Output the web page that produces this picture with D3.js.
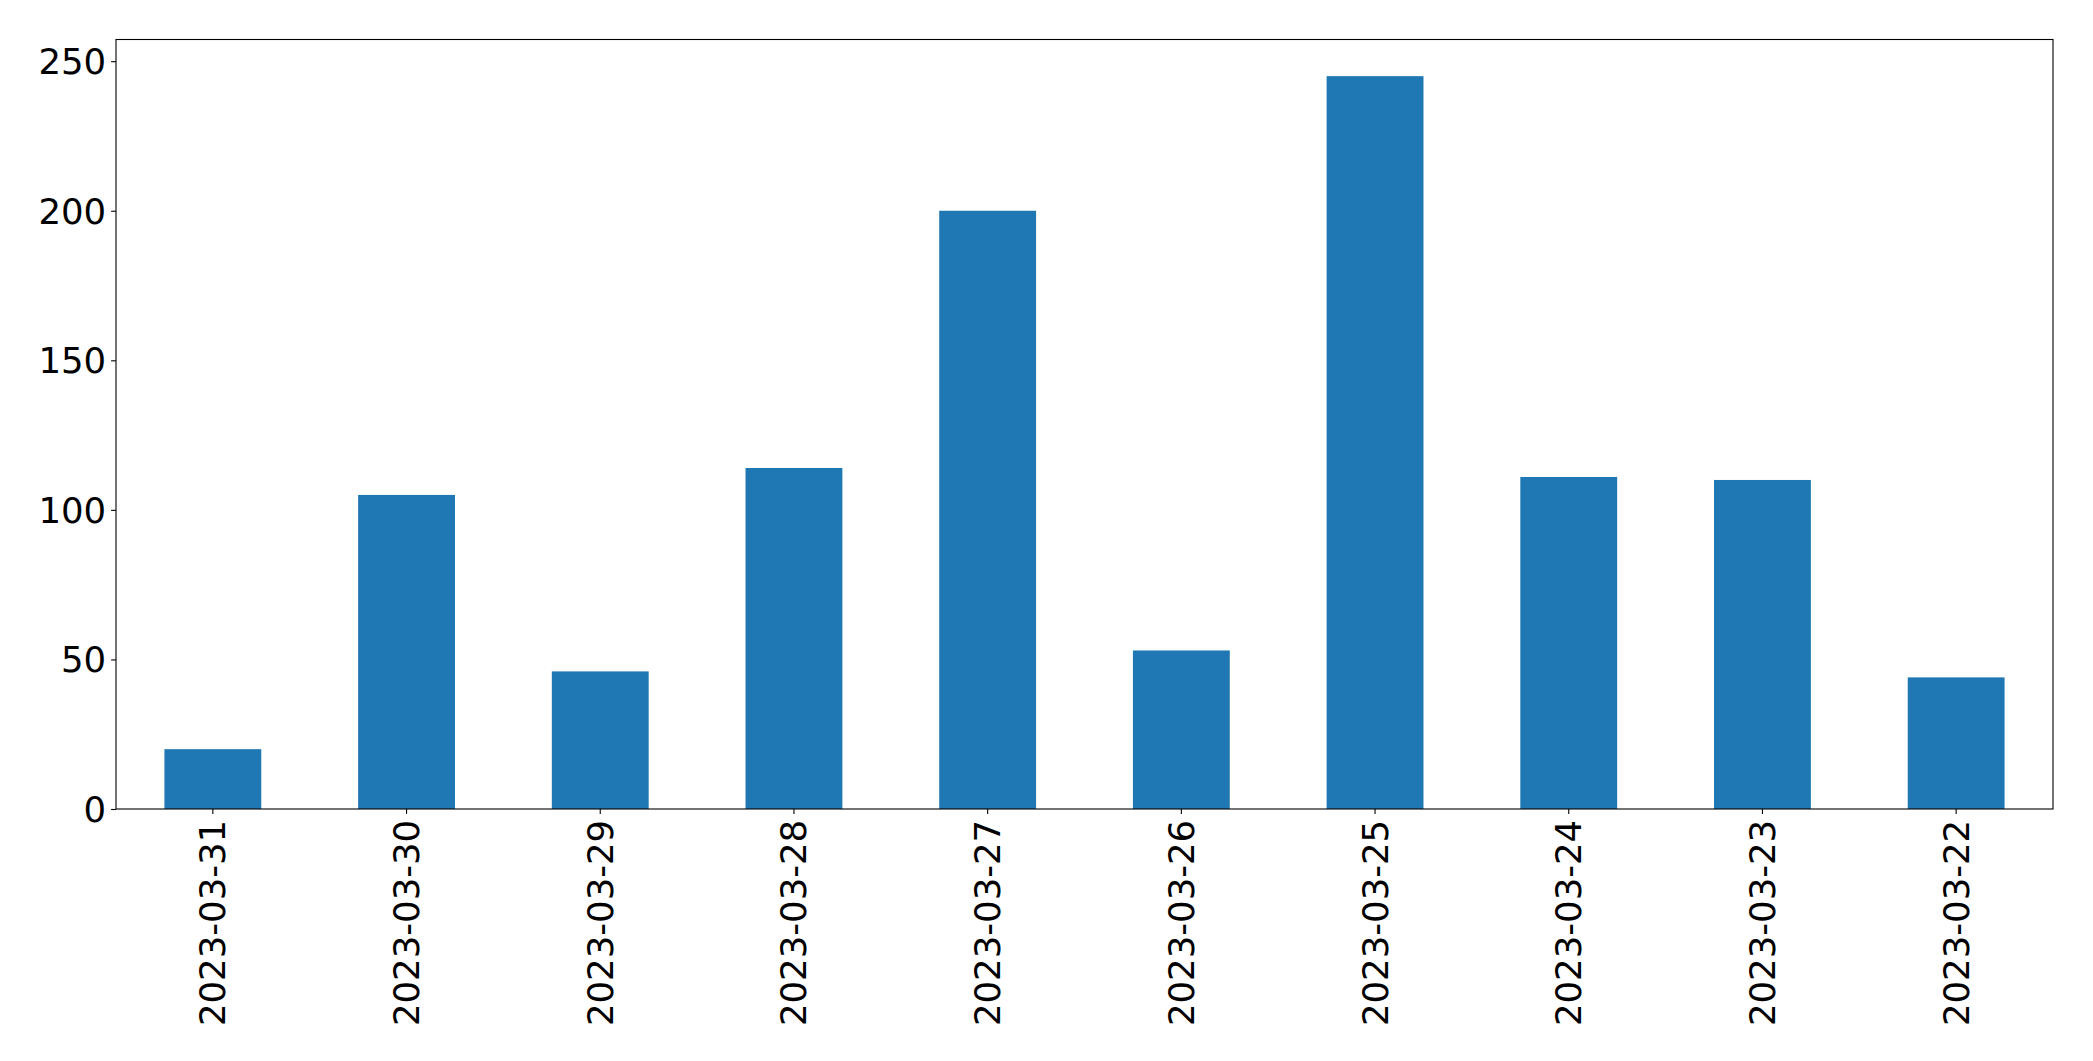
<!DOCTYPE html>
<html>
<head>
<meta charset="utf-8">
<script src="https://cdn.jsdelivr.net/npm/d3@7"></script>
<style>
  html, body { margin: 0; padding: 0; background: #fff; }
  svg { display: block; }
  text { font-family: "DejaVu Sans", sans-serif; fill: #000; }
</style>
</head>
<body>
<script>
const categories = ["2023-03-31","2023-03-30","2023-03-29","2023-03-28","2023-03-27","2023-03-26","2023-03-25","2023-03-24","2023-03-23","2023-03-22"];
const values = [20, 105, 46, 114, 200, 53, 245, 111, 110, 44];
const yTicks = [0, 50, 100, 150, 200, 250];

const W = 2093, H = 1061;
const mLeft = 116, mRight = 2053, mTop = 39.5, mBottom = 809;
const fontPx = 35.5;
const tickLen = 4.9, pad = 4.9;

const svg = d3.select("body").append("svg").attr("width", W).attr("height", H);

const x = d3.scaleBand().domain(categories).range([mLeft, mRight]).paddingInner(0.5).paddingOuter(0.25);
const yMax = d3.max(values) * 1.05;
const y = d3.scaleLinear().domain([0, yMax]).range([mBottom, mTop]);

svg.append("g").selectAll("rect").data(values).join("rect")
  .attr("x", (d, i) => x(categories[i]))
  .attr("width", x.bandwidth())
  .attr("y", d => y(d))
  .attr("height", d => y(0) - y(d))
  .attr("fill", "#1f77b4");

// Y axis
const yAxis = d3.axisLeft(y).tickValues(yTicks).tickSize(tickLen).tickPadding(pad).tickFormat(d3.format("d"));
const gy = svg.append("g").attr("transform", `translate(${mLeft},0)`).call(yAxis);
gy.select(".domain").remove();
gy.selectAll(".tick line").attr("stroke", "#000").attr("stroke-width", 1.1);
gy.selectAll(".tick text").attr("font-size", fontPx).attr("font-family", "DejaVu Sans").attr("dy", "0.35em");

// X axis
const xAxis = d3.axisBottom(x).tickSize(tickLen).tickPadding(0);
const gx = svg.append("g").attr("transform", `translate(0,${mBottom})`).call(xAxis);
gx.select(".domain").remove();
gx.selectAll(".tick line").attr("stroke", "#000").attr("stroke-width", 1.1);
gx.selectAll(".tick text")
  .attr("font-size", fontPx).attr("font-family", "DejaVu Sans")
  .attr("text-anchor", "end")
  .attr("dy", null)
  .attr("y", 0)
  .attr("dominant-baseline", "central")
  .attr("transform", `translate(0,${tickLen + pad + 1}) rotate(-90)`);

// Frame
svg.append("rect")
  .attr("x", mLeft).attr("y", mTop)
  .attr("width", mRight - mLeft).attr("height", mBottom - mTop)
  .attr("fill", "none").attr("stroke", "#000").attr("stroke-width", 1.1);
</script>
</body>
</html>
